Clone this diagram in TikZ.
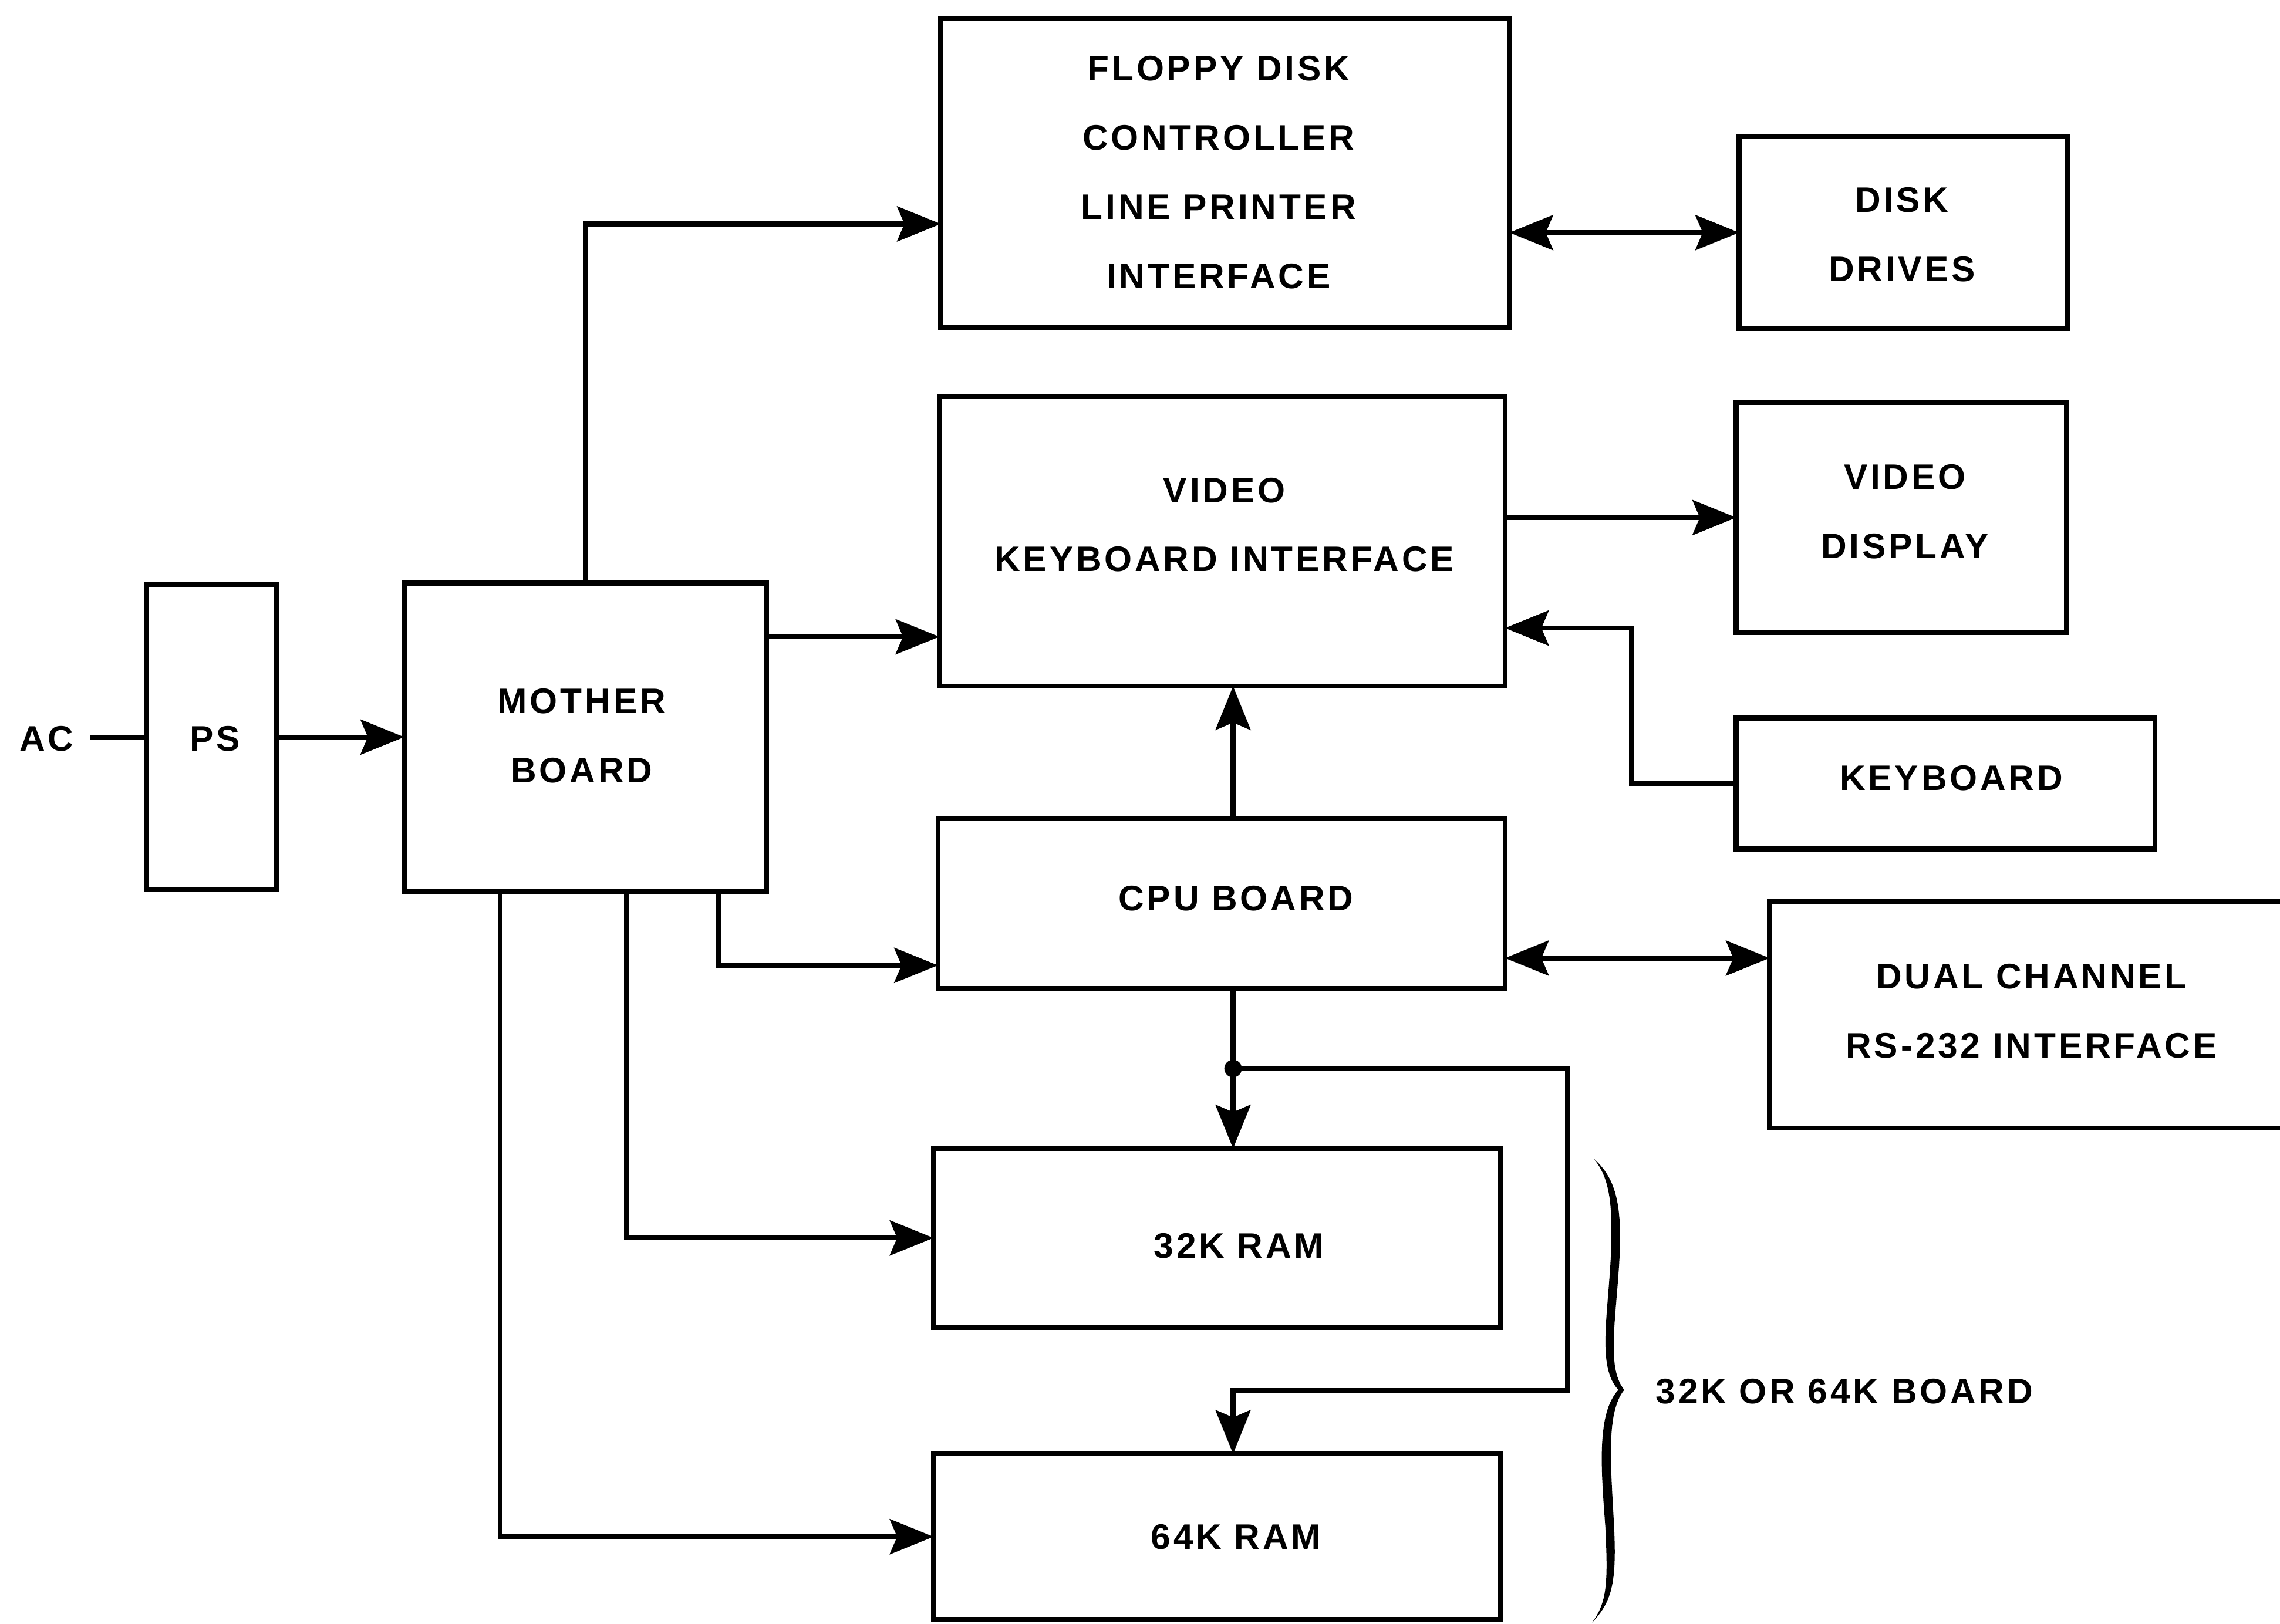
\documentclass[tikz,border=0pt]{standalone}
\usepackage{fontspec}
\usetikzlibrary{arrows.meta,calc}
\newfontfamily\lbl{Liberation Sans}[LetterSpace=8]

\tikzset{every picture/.style={line width=1.7pt}}
\tikzset{
  blk/.style={draw, line width=1.7pt, inner sep=0pt, outer sep=0pt},
  txt/.style={font=\lbl\bfseries\fontsize{12.2}{23.8}\selectfont, align=center, inner sep=0pt},
  >={Stealth[length=15pt,width=12pt,inset=2.5pt]}
}

\begin{document}
\begin{tikzpicture}[x=0.5pt,y=0.5pt,yscale=-1,xscale=1]
    \useasboundingbox (0,0) rectangle (1568,1117);

    %Shape: Rectangle [power supply]
    \node[blk, minimum width=44.5pt, minimum height=105pt] (ps) at (145.5,507) {};
    %Shape: Rectangle [mother board]
    \node[blk, minimum width=124.5pt, minimum height=106pt] (mb) at (402.5,507) {};
    %Shape: Rectangle [floppy controller]
    \node[blk, minimum width=195.5pt, minimum height=106pt] (fdc) at (842.5,119) {};
    %Shape: Rectangle [disk drives]
    \node[blk, minimum width=113pt, minimum height=66pt] (dd) at (1309,160) {};
    %Shape: Rectangle [video keyboard interface]
    \node[blk, minimum width=194.5pt, minimum height=99.5pt] (vki) at (840.5,372.5) {};
    %Shape: Rectangle [video display]
    \node[blk, minimum width=113.5pt, minimum height=79pt] (vd) at (1307.5,356) {};
    %Shape: Rectangle [keyboard]
    \node[blk, minimum width=144pt, minimum height=45pt] (kb) at (1338,539) {};
    %Shape: Rectangle [cpu board]
    \node[blk, minimum width=195pt, minimum height=58.5pt] (cpu) at (840,621.5) {};
    %Shape: Rectangle [dual channel]
    \node[blk, minimum width=180pt, minimum height=78pt] (dual) at (1397,698) {};
    %Shape: Rectangle [32k ram]
    \node[blk, minimum width=195pt, minimum height=61.5pt] (r32) at (837,851.5) {};
    %Shape: Rectangle [64k ram]
    \node[blk, minimum width=195pt, minimum height=57pt] (r64) at (837,1057) {};

    % Text Node
    \node[txt] (ac) at (32,508) {AC};
    % Text Node
    \node[txt] (pstxt) at (148,508) {PS};
    % Text Node
    \node[txt] (mbtxt) at (400,506) {MOTHER\\BOARD};
    % Text Node
    \node[txt] (fdctxt) at (838,118.5) {FLOPPY DISK\\CONTROLLER\\LINE PRINTER\\INTERFACE};
    % Text Node
    \node[txt] (ddtxt) at (1308,161.5) {DISK\\DRIVES};
    % Text Node
    \node[txt] (vkitxt) at (842,361) {VIDEO\\KEYBOARD INTERFACE};
    % Text Node
    \node[txt] (vdtxt) at (1310,352) {VIDEO\\DISPLAY};
    % Text Node
    \node[txt] (kbtxt) at (1342,535) {KEYBOARD};
    % Text Node
    \node[txt] (cputxt) at (850,618) {CPU BOARD};
    % Text Node
    \node[txt] (dualtxt) at (1397,695.5) {DUAL CHANNEL\\RS-232 INTERFACE};
    % Text Node
    \node[txt] (r32txt) at (852,857) {32K RAM};
    % Text Node
    \node[txt] (r64txt) at (850,1057) {64K RAM};
    % Text Node
    \node[txt, anchor=west] (brtxt) at (1137,957) {32K OR 64K BOARD};

    %Straight Lines
    \draw ([xshift=5pt]ac.east |- ps.west) -- (ps.west) ;
    \draw[->] (ps.east) -- (mb.west) ;
    \draw[->] (mb.north) |- ([yshift=17.5pt]fdc.west) ;
    \draw[<->] (fdc.east |- dd.west) -- (dd.west) ;
    \draw[<-] ([yshift=32.75pt]vki.west) coordinate (mbv) -- (mbv -| mb.east) ;
    \draw[->] (vki.east |- vd.west) -- (vd.west) ;
    \draw[->] (kb.west) -- ([xshift=-36pt]kb.west) |- ([yshift=29.75pt]vki.east) ;
    \draw[->] ([xshift=4pt]cpu.north) coordinate (cu) -- (cu |- vki.south) ;
    \draw[->] ([xshift=45.75pt]mb.south) |- ([yshift=21.25pt]cpu.west) ;
    \draw[<->] ([yshift=18.75pt]cpu.east) coordinate (cd) -- (cd -| dual.west) ;
    \draw[->] ([xshift=14.25pt]mb.south) |- (r32.west) ;
    \draw[->] ([xshift=-29.25pt]mb.south) |- (r64.west) ;

    %Bus to the ram boards
    \draw[->] ([xshift=4pt]cpu.south) coordinate (cb) -- (cb |- r32.north) ;
    \coordinate (jn) at ($(cb)!.5!(cb |- r32.north)$) ;
    \coordinate (lp) at ($(r32.south east)!.5!(r64.north east)$) ;
    \fill (jn) circle (3pt) ;
    \draw[->] (jn) -| ([xshift=23pt]lp) -- (lp -| jn) -- (jn |- r64.north) ;

    %Curve Lines [brace]
    \fill (1096,797) .. controls (1111,810) and (1115,828) .. (1114,860) .. controls (1112,905) and (1104,940) .. (1117,956)
      .. controls (1104,972) and (1108,1010) .. (1110,1050) .. controls (1112,1090) and (1108,1102) .. (1095,1116)
      .. controls (1105,1102) and (1106,1090) .. (1104,1050) .. controls (1101,1010) and (1098,972) .. (1113,956)
      .. controls (1098,940) and (1106,905) .. (1108,860) .. controls (1109,828) and (1107,810) .. (1096,797) -- cycle ;

\end{tikzpicture}
\end{document}
